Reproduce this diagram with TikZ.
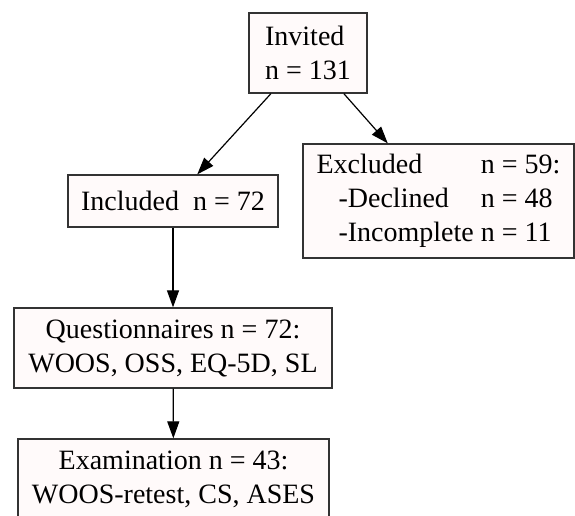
\documentclass[tikz,border=0pt]{standalone}
\usepackage{fontspec}
\setmainfont{Liberation Serif}
\usepackage{xcolor}
\usetikzlibrary{arrows.meta,positioning}
\definecolor{boxfill}{HTML}{FFFAFA}
\definecolor{boxline}{HTML}{333333}

\begin{document}
\begin{tikzpicture}[
		x=1pt, y=-1pt,
		box/.style={rectangle, draw=boxline, fill=boxfill, line width=1.3pt, inner sep=0pt, font=\fontsize{28}{34}\selectfont},
		link/.style={->, line width=1.2pt, draw=black},
		>={Triangle[length=17pt, width=12pt]}
		]
	
		\clip (0, 0) rectangle (575, 515);
	
		\node[box, minimum width=118pt, minimum height=80pt, align=left] (invited) at (308, 53) {Invited\\n = 131};
		\node[box, minimum width=210pt, minimum height=52pt] (included) at (173, 201) {Included~~n = 72};
		\node[box, minimum width=271pt, minimum height=114pt] (excluded) at (438.5, 201) {%
			\begin{tabular}{@{}l@{\hspace{7pt}}l@{}}
				Excluded & n = 59:\\
				\hspace*{22pt}-Declined & n = 48\\
				\hspace*{22pt}-Incomplete & n = 11
			\end{tabular}};
		\node[box, minimum width=318pt, minimum height=80pt, align=center] (quest) at (173, 348) {Questionnaires n = 72:\\WOOS, OSS, EQ-5D, SL};
		\node[box, minimum width=311pt, minimum height=80pt, align=center] (exam) at (173.5, 479) {Examination n = 43:\\WOOS-retest, CS, ASES};
	
		\draw[link] (invited) -- (included);
		\draw[link] (invited) -- (excluded);
		\draw[link] (included) -- (quest);
		\draw[link] (quest) -- (exam);
	
	\end{tikzpicture}
\end{document}
